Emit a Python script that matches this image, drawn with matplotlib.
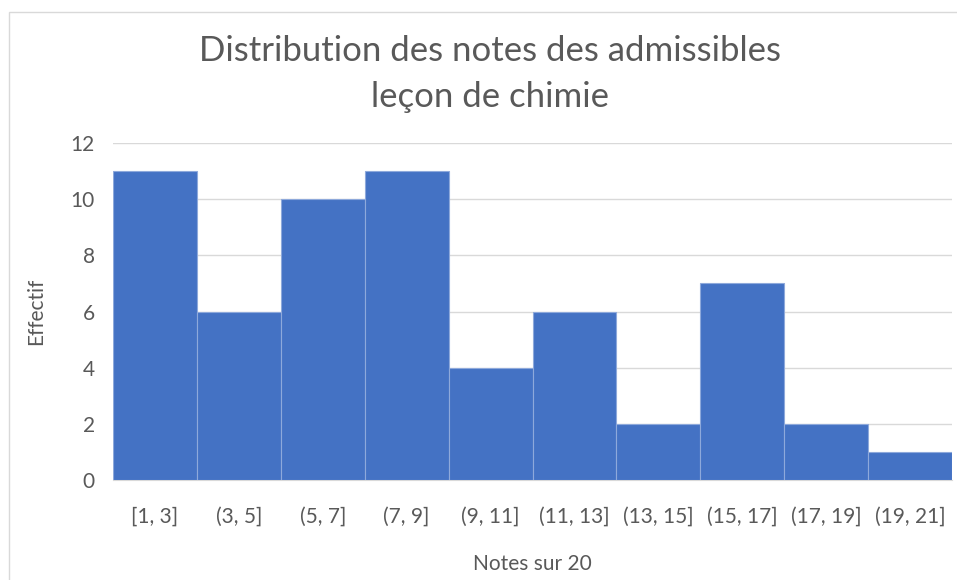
import matplotlib.pyplot as plt
from matplotlib.patches import Rectangle

classes = ["[1, 3]", "(3, 5]", "(5, 7]", "(7, 9]", "(9, 11]",
           "(11, 13]", "(13, 15]", "(15, 17]", "(17, 19]", "(19, 21]"]
effectifs = [11, 6, 10, 11, 4, 6, 2, 7, 2, 1]
yticks = [0, 2, 4, 6, 8, 10, 12]

gris = "#595959"
plt.rcParams['font.family'] = ['Lato', 'DejaVu Sans']

fig = plt.figure(figsize=(9.57, 5.80), dpi=100)
ax = fig.add_axes([113/957, 1 - 480/580, 839/957, 337/580])

# cadre du graphique
fig.patches.append(Rectangle((9/957, -0.01), 1.0, 1 - 12/580 + 0.01,
                             transform=fig.transFigure, fill=False,
                             edgecolor="#D9D9D9", linewidth=1))

x = list(range(len(classes)))
ax.bar(x, effectifs, width=1.0, color="#4472C4", edgecolor="#8EA9DB",
       linewidth=0.8, zorder=3)

ax.set_xlim(-0.5, len(classes) - 0.5)
ax.set_ylim(0, 12)
ax.set_yticks(yticks)
ax.set_xticks(x)
ax.set_xticklabels(classes)
ax.grid(axis="y", color="#D9D9D9", linewidth=1, zorder=0)
for s in ["top", "right", "left"]:
    ax.spines[s].set_visible(False)
ax.spines["bottom"].set_color("#D9D9D9")
ax.tick_params(axis="both", length=0, labelsize=15, colors=gris)
ax.tick_params(axis="x", pad=19)
ax.tick_params(axis="y", pad=13)

ax.set_xlabel("Notes sur 20", fontsize=15, color=gris, labelpad=20)
ax.set_ylabel("Effectif", fontsize=15, color=gris, labelpad=18)

fig.text(490/957, 1 - 74/580, "Distribution des notes des admissibles\nleçon de chimie",
         ha="center", va="center", fontsize=25, color=gris, linespacing=1.55)

fig.savefig("out.png", dpi=100)
